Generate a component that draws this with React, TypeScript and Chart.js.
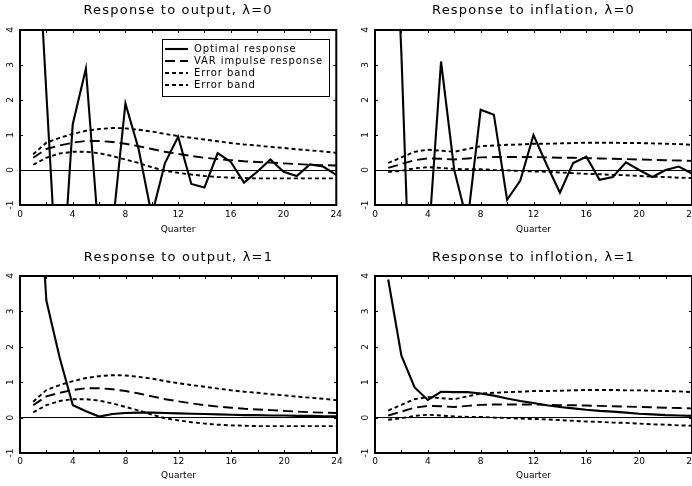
import React, { useEffect, useRef } from "react";
import { Chart, registerables } from "chart.js";

Chart.register(...registerables);

// ---------- data ----------
const quarters = [1, 2, 3, 4, 5, 6, 7, 8, 9, 10, 11, 12, 13, 14, 15, 16, 17, 18, 19, 20, 21, 22, 23, 24];

const outputOptimalL0 = [9, 2.2, -4.5, 1.3, 2.9, -2.0, -1.72, 1.9, 0.6, -1.3, 0.2, 0.95, -0.4, -0.5, 0.48, 0.23, -0.36, -0.05, 0.3, -0.05, -0.17, 0.16, 0.1, -0.14];
const inflationOptimalL0 = [12, 3.3, -7.5, -2.3, 3.1, 0.0, -1.5, 1.72, 1.58, -0.85, -0.3, 1.0, 0.15, -0.65, 0.2, 0.38, -0.28, -0.2, 0.22, 0.0, -0.2, 0.0, 0.1, -0.1];
const outputOptimalL1 = [9.1, 3.3, 1.7, 0.35, 0.18, 0.03, 0.1, 0.13, 0.14, 0.14, 0.13, 0.12, 0.11, 0.1, 0.09, 0.08, 0.07, 0.07, 0.06, 0.06, 0.05, 0.05, 0.04, 0.04];
const inflationOptimalL1 = [3.9, 1.75, 0.85, 0.5, 0.73, 0.72, 0.72, 0.68, 0.62, 0.54, 0.47, 0.41, 0.35, 0.3, 0.26, 0.22, 0.19, 0.17, 0.14, 0.11, 0.09, 0.07, 0.06, 0.05];

const outputVar = [0.35, 0.6, 0.7, 0.78, 0.83, 0.83, 0.8, 0.75, 0.68, 0.6, 0.52, 0.46, 0.4, 0.35, 0.31, 0.28, 0.25, 0.23, 0.21, 0.19, 0.17, 0.15, 0.14, 0.13];
const outputBandUpper = [0.45, 0.78, 0.92, 1.03, 1.12, 1.17, 1.2, 1.19, 1.15, 1.1, 1.03, 0.97, 0.92, 0.87, 0.82, 0.77, 0.73, 0.7, 0.66, 0.63, 0.59, 0.56, 0.53, 0.49];
const outputBandLower = [0.15, 0.35, 0.47, 0.52, 0.52, 0.48, 0.4, 0.3, 0.2, 0.08, -0.02, -0.08, -0.13, -0.17, -0.2, -0.22, -0.23, -0.24, -0.24, -0.24, -0.24, -0.24, -0.24, -0.24];

const inflationVar = [0.06, 0.17, 0.28, 0.33, 0.32, 0.3, 0.33, 0.36, 0.37, 0.37, 0.37, 0.37, 0.36, 0.35, 0.35, 0.34, 0.33, 0.32, 0.31, 0.3, 0.29, 0.28, 0.27, 0.26];
const inflationBandUpper = [0.2, 0.36, 0.52, 0.58, 0.55, 0.52, 0.6, 0.68, 0.7, 0.72, 0.73, 0.75, 0.75, 0.76, 0.77, 0.78, 0.78, 0.78, 0.77, 0.77, 0.76, 0.75, 0.74, 0.72];
const inflationBandLower = [-0.06, -0.02, 0.05, 0.08, 0.06, 0.03, 0.02, 0.02, 0.0, -0.01, -0.03, -0.04, -0.05, -0.07, -0.09, -0.11, -0.12, -0.14, -0.15, -0.17, -0.19, -0.2, -0.22, -0.23];

const xTicks = [0, 4, 8, 12, 16, 20, 24];
const yTicks = [-1, 0, 1, 2, 3, 4];
const seriesLabels = ["Optimal response", "VAR impulse response", "Error band", "Error band"];
const panelTitles = [
  "Response to output, \u03bb=0",
  "Response to inflation, \u03bb=0",
  "Response to output, \u03bb=1",
  "Response to inflotion, \u03bb=1",
];
const xAxisTitle = "Quarter";

// ---------- styles ----------
const FONT = "'DejaVu Sans', sans-serif";
const lineStyles = [
  { borderWidth: 2.1, borderDash: [] as number[] },
  { borderWidth: 1.9, borderDash: [10, 5] },
  { borderWidth: 1.9, borderDash: [4, 3] },
  { borderWidth: 1.9, borderDash: [4, 3] },
];

type PanelProps = {
  title: string;
  series: number[][];
  showLegend: boolean;
  left: number;
  top: number;
  width: number;
  height: number;
  yAxisWidth: number;
  xAxisHeight: number;
  padTop: number;
  padRight: number;
  titleY: number;
  tickPad: number;
  xTitlePad: number;
};

function Panel(p: PanelProps) {
  const ref = useRef<HTMLCanvasElement | null>(null);
  useEffect(() => {
    const canvas = ref.current;
    if (!canvas) return;
    const datasets = p.series.map((vals, i) => ({
      label: seriesLabels[i],
      data: quarters.map((q, k) => ({ x: q, y: vals[k] })),
      borderColor: "#000",
      backgroundColor: "#000",
      borderWidth: lineStyles[i].borderWidth,
      borderDash: lineStyles[i].borderDash,
      pointRadius: 0,
      tension: 0,
      fill: false,
    }));

    const framePlugin = {
      id: "frame",
      afterDraw(chart: any) {
        const ctx = chart.ctx as CanvasRenderingContext2D;
        const a = chart.chartArea;
        const xs = chart.scales.x;
        const ys = chart.scales.y;
        ctx.save();
        ctx.strokeStyle = "#000";
        ctx.setLineDash([]);
        // inward tick marks
        ctx.lineWidth = 1;
        ctx.beginPath();
        for (let v = xTicks[0] + 2; v < xTicks[xTicks.length - 1]; v += 2) {
          const px = Math.round(xs.getPixelForValue(v)) + 0.5;
          ctx.moveTo(px, a.bottom);
          ctx.lineTo(px, a.bottom - 3);
          ctx.moveTo(px, a.top);
          ctx.lineTo(px, a.top + 3);
        }
        for (const v of yTicks.slice(1, -1)) {
          const py = Math.round(ys.getPixelForValue(v)) + 0.5;
          ctx.moveTo(a.left, py);
          ctx.lineTo(a.left + 3, py);
          ctx.moveTo(a.right, py);
          ctx.lineTo(a.right - 3, py);
        }
        ctx.stroke();
        // box
        ctx.lineWidth = 2;
        ctx.strokeRect(a.left, a.top, a.right - a.left, a.bottom - a.top);
        // title
        (ctx as any).letterSpacing = "1.2px";
        ctx.fillStyle = "#000";
        ctx.font = `13px ${FONT}`;
        ctx.textAlign = "center";
        ctx.textBaseline = "middle";
        ctx.fillText(p.title, (a.left + a.right) / 2, p.titleY);
        // legend
        if (p.showLegend) {
          const bx = a.left + 142;
          const by = a.top + 9;
          const bw = 167;
          const bh = 57;
          ctx.fillStyle = "#fff";
          ctx.fillRect(bx, by, bw, bh);
          ctx.lineWidth = 1;
          ctx.strokeRect(bx + 0.5, by + 0.5, bw, bh);
          (ctx as any).letterSpacing = "0.9px";
          ctx.font = `10px ${FONT}`;
          ctx.textAlign = "left";
          ctx.fillStyle = "#000";
          chart.data.datasets.forEach((ds: any, i: number) => {
            const y = by + 10 + i * 12;
            ctx.lineWidth = ds.borderWidth;
            ctx.setLineDash(ds.borderDash || []);
            ctx.beginPath();
            ctx.moveTo(bx + 3, y);
            ctx.lineTo(bx + 26, y);
            ctx.stroke();
            ctx.setLineDash([]);
            ctx.fillText(ds.label, bx + 32, y);
          });
        }
        ctx.restore();
      },
    };

    const chart = new Chart(canvas, {
      type: "line",
      data: { datasets },
      options: {
        animation: false,
        responsive: false,
        maintainAspectRatio: false,
        layout: { padding: { top: p.padTop, right: p.padRight, left: 0, bottom: 0 } },
        plugins: {
          legend: { display: false },
          title: { display: false },
          tooltip: { enabled: false },
        },
        scales: {
          x: {
            type: "linear",
            min: xTicks[0],
            max: xTicks[xTicks.length - 1],
            grid: { display: false, drawTicks: false },
            border: { display: false },
            ticks: {
              stepSize: xTicks[1] - xTicks[0],
              color: "#000",
              font: { family: FONT, size: 9 },
              padding: p.tickPad,
              maxRotation: 0,
              minRotation: 0,
            },
            title: {
              display: true,
              text: xAxisTitle,
              color: "#000",
              font: { family: FONT, size: 9 },
              padding: { top: 0, bottom: p.xTitlePad },
            },
            afterFit: (s: any) => {
              s.height = p.xAxisHeight;
            },
          },
          y: {
            type: "linear",
            min: yTicks[0],
            max: yTicks[yTicks.length - 1],
            grid: {
              drawTicks: false,
              color: (c: any) => (c.tick && c.tick.value === 0 ? "#000" : "rgba(0,0,0,0)"),
              lineWidth: 1,
            },
            border: { display: false },
            ticks: {
              stepSize: yTicks[1] - yTicks[0],
              color: "#000",
              font: { family: FONT, size: 9 },
              minRotation: 90,
              maxRotation: 90,
              crossAlign: "center",
              padding: 5,
            },
            afterFit: (s: any) => {
              s.width = p.yAxisWidth;
            },
          },
        },
      },
      plugins: [framePlugin],
    } as any);
    return () => chart.destroy();
  }, []);
  return (
    <canvas
      ref={ref}
      width={p.width}
      height={p.height}
      style={{ position: "absolute", left: p.left, top: p.top, width: p.width, height: p.height }}
    />
  );
}

export default function App() {
  const common = { height: 243 };
  return (
    <div
      style={{
        position: "absolute",
        left: 0,
        top: 0,
        width: 692,
        height: 486,
        overflow: "hidden",
        background: "#fff",
      }}
    >
      <Panel
        {...common}
        title={panelTitles[0]}
        series={[outputOptimalL0, outputVar, outputBandUpper, outputBandLower]}
        showLegend={true}
        left={0}
        top={0}
        width={346}
        yAxisWidth={20}
        xAxisHeight={38}
        padTop={30}
        padRight={9}
        titleY={11}
        tickPad={4}
        xTitlePad={8}
      />
      <Panel
        {...common}
        title={panelTitles[1]}
        series={[inflationOptimalL0, inflationVar, inflationBandUpper, inflationBandLower]}
        showLegend={false}
        left={346}
        top={0}
        width={390}
        yAxisWidth={29}
        xAxisHeight={38}
        padTop={30}
        padRight={44}
        titleY={11}
        tickPad={4}
        xTitlePad={8}
      />
      <Panel
        {...common}
        title={panelTitles[2]}
        series={[outputOptimalL1, outputVar, outputBandUpper, outputBandLower]}
        showLegend={false}
        left={0}
        top={243}
        width={346}
        yAxisWidth={20}
        xAxisHeight={33}
        padTop={33}
        padRight={9}
        titleY={15}
        tickPad={3}
        xTitlePad={5}
      />
      <Panel
        {...common}
        title={panelTitles[3]}
        series={[inflationOptimalL1, inflationVar, inflationBandUpper, inflationBandLower]}
        showLegend={false}
        left={346}
        top={243}
        width={390}
        yAxisWidth={29}
        xAxisHeight={33}
        padTop={33}
        padRight={44}
        titleY={15}
        tickPad={3}
        xTitlePad={5}
      />
    </div>
  );
}
